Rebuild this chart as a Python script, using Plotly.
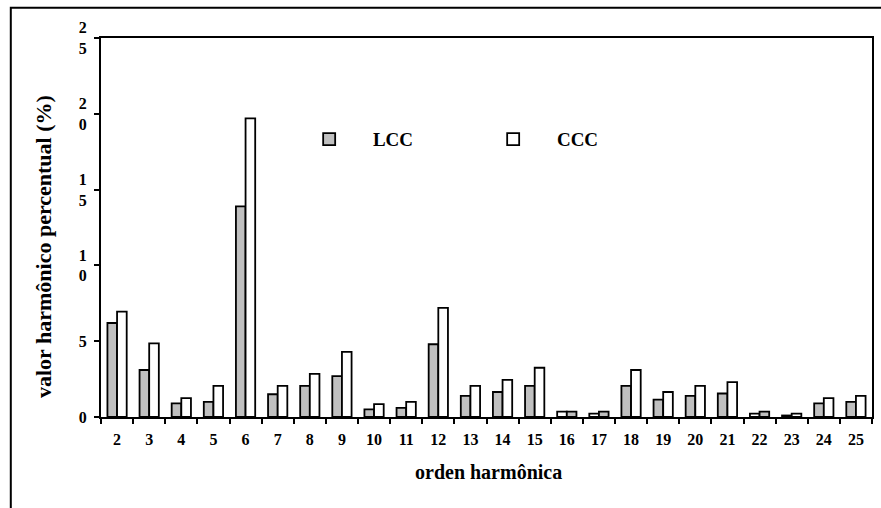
import plotly.graph_objects as go

harmonics = [str(h) for h in range(2, 26)]
lcc = [6.2, 3.1, 0.9, 1.0, 13.9, 1.5, 2.05, 2.7, 0.5, 0.6, 4.8, 1.4, 1.65, 2.05,
       0.35, 0.22, 2.05, 1.15, 1.4, 1.55, 0.22, 0.1, 0.9, 1.0]
ccc = [6.95, 4.85, 1.25, 2.05, 19.7, 2.05, 2.85, 4.3, 0.85, 1.0, 7.2, 2.05, 2.45, 3.25,
       0.35, 0.35, 3.1, 1.65, 2.05, 2.3, 0.35, 0.22, 1.25, 1.4]
y_tickvals = [0, 5, 10, 15, 20, 25]
y_ticktext = ["0", "5", "1<br>0", "1<br>5", "2<br>0", "2<br>5"]

GRAY = "#c0c0c0"
WHITE = "#ffffff"
# the scanned original shows the bar shades swapped at a few orders
swapped = {"16", "17", "22"}
lcc_colors = [WHITE if h in swapped else GRAY for h in harmonics]
ccc_colors = [GRAY if h in swapped else WHITE for h in harmonics]

FONT = "Liberation Serif"
NB = "\u00a0"


def bold_lines(t):
    return "<br>".join("<b>%s</b>" % p for p in t.split("<br>"))


fig = go.Figure()
fig.add_trace(go.Bar(x=harmonics, y=lcc, name=NB * 5 + "<b>LCC</b>",
                     marker=dict(color=lcc_colors, line=dict(color="black", width=1.8))))
fig.add_trace(go.Bar(x=harmonics, y=ccc, name=NB * 5 + "<b>CCC</b>",
                     marker=dict(color=ccc_colors, line=dict(color="black", width=1.8))))

fig.update_layout(
    width=881, height=508,
    margin=dict(l=101, r=7, t=38, b=91),
    paper_bgcolor="white", plot_bgcolor="white",
    barmode="group", bargap=0.4, bargroupgap=0,
    font=dict(family=FONT, color="black", size=16),
    showlegend=True,
    legend=dict(orientation="h", x=0.270, y=0.733, xanchor="left", yanchor="middle",
                bgcolor="rgba(0,0,0,0)", entrywidth=139, entrywidthmode="pixels",
                font=dict(family=FONT, size=19, color="black"),
                traceorder="normal"),
    xaxis=dict(type="category", tickson="boundaries", ticks="outside", ticklen=5,
               tickwidth=1.5, tickcolor="black", showline=True, linecolor="black",
               linewidth=2, mirror=True, showgrid=False, ticklabelstandoff=7,
               tickprefix="<b>", ticksuffix="</b>",
               tickfont=dict(family=FONT, size=16, color="black")),
    yaxis=dict(range=[0, 25], tickvals=y_tickvals,
               ticktext=[bold_lines(t) for t in y_ticktext],
               ticks="outside", ticklen=5, tickwidth=1.5, tickcolor="black",
               showline=True, linecolor="black", linewidth=2, mirror=True,
               showgrid=False, zeroline=False, ticklabelstandoff=4,
               tickfont=dict(family=FONT, size=16, color="black")),
)

fig.add_annotation(text="<b>valor harmônico percentual (%)</b>", xref="paper", yref="paper",
                   x=-0.0925, y=0.449, textangle=-90, showarrow=False,
                   font=dict(family=FONT, size=22, color="black"))
fig.add_annotation(text="<b>orden harmônica</b>", xref="paper", yref="paper",
                   x=0.503, y=-0.179, showarrow=False,
                   font=dict(family=FONT, size=20, color="black"))

# outer frame (cut off on the right and bottom in the original)
fig.add_shape(type="rect", xref="paper", yref="paper",
              x0=-0.117, x1=1.05, y0=-0.3, y1=1.08,
              line=dict(color="black", width=2), fillcolor="rgba(0,0,0,0)")

fig.write_html("out.html", config={"displayModeBar": False},
               post_script="document.body.style.margin='0';")
